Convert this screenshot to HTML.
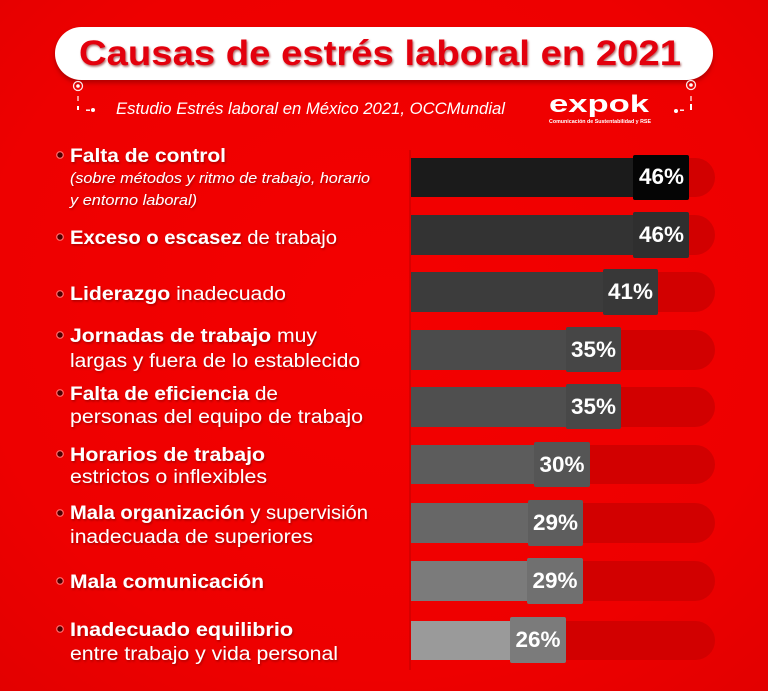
<!DOCTYPE html>
<html><head><meta charset="utf-8"><style>
html,body{margin:0;padding:0;background:#ee0000;}
svg{display:block;}
text{font-family:"Liberation Sans",sans-serif;}
</style></head><body>
<svg width="768" height="691" viewBox="0 0 768 691" xmlns="http://www.w3.org/2000/svg">
<defs>
<radialGradient id="bg" cx="50%" cy="45%" r="75%">
<stop offset="0" stop-color="#f40000"/>
<stop offset="0.7" stop-color="#ee0000"/>
<stop offset="1" stop-color="#e20000"/>
</radialGradient>
<filter id="ts" x="-5%" y="-20%" width="110%" height="150%">
<feDropShadow dx="1" dy="1.5" stdDeviation="1" flood-color="#7a0000" flood-opacity="0.6"/>
</filter>
<filter id="ps" x="-5%" y="-20%" width="110%" height="160%">
<feDropShadow dx="0" dy="3" stdDeviation="2.5" flood-color="#700000" flood-opacity="0.5"/>
</filter>
</defs>
<rect width="768" height="691" fill="url(#bg)"/>

<!-- title pill -->
<rect x="55" y="27" width="658" height="53" rx="26.5" fill="#ffffff" filter="url(#ps)"/>
<text x="79" y="65" font-size="35" font-weight="bold" fill="#e3000b" textLength="602" lengthAdjust="spacingAndGlyphs" filter="url(#ts)">Causas de estrés laboral en 2021</text>

<!-- decorations left -->
<g stroke="#ffffff" fill="none" stroke-width="1.3" opacity="0.9">
<circle cx="78" cy="86" r="4.5"/>
<line x1="78" y1="96" x2="78" y2="101"/>
</g>
<circle cx="78" cy="86" r="1.8" fill="#fff"/>
<rect x="77" y="106" width="2" height="4" fill="#fff"/>
<circle cx="93" cy="110" r="2" fill="#fff"/>
<rect x="86" y="109.5" width="4" height="1.4" fill="#fff"/>
<!-- decorations right -->
<g stroke="#ffffff" fill="none" stroke-width="1.3" opacity="0.9">
<circle cx="691" cy="85" r="4.5"/>
<line x1="691" y1="96" x2="691" y2="101"/>
</g>
<circle cx="691" cy="85" r="1.8" fill="#fff"/>
<rect x="690" y="104" width="2" height="6" fill="#fff"/>
<circle cx="676" cy="111" r="2" fill="#fff"/>
<rect x="680" y="109.5" width="4" height="1.4" fill="#fff"/>

<!-- subtitle -->
<text x="116" y="114" font-size="17" font-style="italic" fill="#ffffff" textLength="389" lengthAdjust="spacingAndGlyphs">Estudio Estrés laboral en México 2021, OCCMundial</text>

<!-- logo -->
<text x="549" y="112" font-size="24" font-weight="bold" fill="#ffffff" textLength="100" lengthAdjust="spacingAndGlyphs">expok</text>
<text x="549" y="123" font-size="5.5" font-weight="bold" fill="#ffffff" textLength="102" lengthAdjust="spacingAndGlyphs">Comunicación de Sustentabilidad y RSE</text>

<!-- tracks -->
<g fill="#d20000">
<rect x="430" y="158" width="285" height="39" rx="19.5"/>
<rect x="430" y="215" width="285" height="40" rx="20"/>
<rect x="430" y="272" width="285" height="40" rx="20"/>
<rect x="430" y="330" width="285" height="40" rx="20"/>
<rect x="430" y="387" width="285" height="40" rx="20"/>
<rect x="430" y="445" width="285" height="39" rx="19.5"/>
<rect x="430" y="503" width="285" height="40" rx="20"/>
<rect x="430" y="561" width="285" height="40" rx="20"/>
<rect x="430" y="621" width="285" height="39" rx="19.5"/>
</g>

<!-- bars -->
<rect x="411" y="158" width="260" height="39" fill="#1b1b1b"/>
<rect x="411" y="215" width="260" height="40" fill="#333333"/>
<rect x="411" y="272" width="230" height="40" fill="#3c3c3c"/>
<rect x="411" y="330" width="190" height="40" fill="#4b4b4b"/>
<rect x="411" y="387" width="190" height="40" fill="#4f4f4f"/>
<rect x="411" y="445" width="160" height="39" fill="#5c5c5c"/>
<rect x="411" y="503" width="150" height="40" fill="#676767"/>
<rect x="411" y="561" width="150" height="40" fill="#7b7b7b"/>
<rect x="411" y="621" width="130" height="39" fill="#9a9a9a"/>
<rect x="409" y="150" width="2" height="520" fill="#c80000" opacity="0.6"/>

<!-- boxes -->
<rect x="633" y="155" width="56" height="45" rx="2" fill="#050505"/>
<rect x="633" y="212" width="56" height="46" rx="2" fill="#2f2f2f"/>
<rect x="603" y="269" width="55" height="46" rx="2" fill="#383838"/>
<rect x="566" y="327" width="55" height="45" rx="2" fill="#464646"/>
<rect x="566" y="384" width="55" height="45" rx="2" fill="#484848"/>
<rect x="534" y="442" width="56" height="45" rx="2" fill="#555555"/>
<rect x="528" y="500" width="55" height="46" rx="2" fill="#5e5e5e"/>
<rect x="527" y="558" width="56" height="46" rx="2" fill="#707070"/>
<rect x="510" y="617" width="56" height="46" rx="2" fill="#7b7b7b"/>

<g font-size="22" font-weight="bold" fill="#ffffff">
<text x="639" y="184" textLength="45" lengthAdjust="spacingAndGlyphs">46%</text>
<text x="639" y="242" textLength="45" lengthAdjust="spacingAndGlyphs">46%</text>
<text x="608" y="299" textLength="45" lengthAdjust="spacingAndGlyphs">41%</text>
<text x="571" y="357" textLength="45" lengthAdjust="spacingAndGlyphs">35%</text>
<text x="571" y="414" textLength="45" lengthAdjust="spacingAndGlyphs">35%</text>
<text x="539.5" y="472" textLength="45" lengthAdjust="spacingAndGlyphs">30%</text>
<text x="533" y="530" textLength="45" lengthAdjust="spacingAndGlyphs">29%</text>
<text x="532.5" y="588" textLength="45" lengthAdjust="spacingAndGlyphs">29%</text>
<text x="515.5" y="647" textLength="45" lengthAdjust="spacingAndGlyphs">26%</text>
</g>

<!-- bullets -->
<g fill="#4a0000" stroke="#ff6a6a" stroke-width="1.2">
<circle cx="60" cy="155" r="3.3"/>
<circle cx="60" cy="237" r="3.3"/>
<circle cx="60" cy="294" r="3.3"/>
<circle cx="60" cy="335" r="3.3"/>
<circle cx="60" cy="393" r="3.3"/>
<circle cx="60" cy="454" r="3.3"/>
<circle cx="60" cy="513" r="3.3"/>
<circle cx="60" cy="581" r="3.3"/>
<circle cx="60" cy="629" r="3.3"/>
</g>

<!-- labels -->
<g fill="#ffffff" font-size="19" filter="url(#ts)">
<text x="70" y="162" font-weight="bold" textLength="156" lengthAdjust="spacingAndGlyphs">Falta de control</text>
<text x="70" y="183" font-size="15" font-style="italic" textLength="300" lengthAdjust="spacingAndGlyphs">(sobre métodos y ritmo de trabajo, horario</text>
<text x="70" y="205" font-size="15" font-style="italic" textLength="127" lengthAdjust="spacingAndGlyphs">y entorno laboral)</text>

<text x="70" y="244" textLength="267" lengthAdjust="spacingAndGlyphs"><tspan font-weight="bold">Exceso o escasez</tspan> de trabajo</text>

<text x="70" y="300" textLength="216" lengthAdjust="spacingAndGlyphs"><tspan font-weight="bold">Liderazgo</tspan> inadecuado</text>

<text x="70" y="342" textLength="247" lengthAdjust="spacingAndGlyphs"><tspan font-weight="bold">Jornadas de trabajo</tspan> muy</text>
<text x="70" y="367" textLength="290" lengthAdjust="spacingAndGlyphs">largas y fuera de lo establecido</text>

<text x="70" y="400" textLength="208" lengthAdjust="spacingAndGlyphs"><tspan font-weight="bold">Falta de eficiencia</tspan> de</text>
<text x="70" y="423" textLength="293" lengthAdjust="spacingAndGlyphs">personas del equipo de trabajo</text>

<text x="70" y="461" font-weight="bold" textLength="195" lengthAdjust="spacingAndGlyphs">Horarios de trabajo</text>
<text x="70" y="483" textLength="197" lengthAdjust="spacingAndGlyphs">estrictos o inflexibles</text>

<text x="70" y="519" textLength="298" lengthAdjust="spacingAndGlyphs"><tspan font-weight="bold">Mala organización</tspan> y supervisión</text>
<text x="70" y="543" textLength="243" lengthAdjust="spacingAndGlyphs">inadecuada de superiores</text>

<text x="70" y="588" font-weight="bold" textLength="194" lengthAdjust="spacingAndGlyphs">Mala comunicación</text>

<text x="70" y="636" font-weight="bold" textLength="223" lengthAdjust="spacingAndGlyphs">Inadecuado equilibrio</text>
<text x="70" y="660" textLength="268" lengthAdjust="spacingAndGlyphs">entre trabajo y vida personal</text>
</g>
</svg>
</body></html>
